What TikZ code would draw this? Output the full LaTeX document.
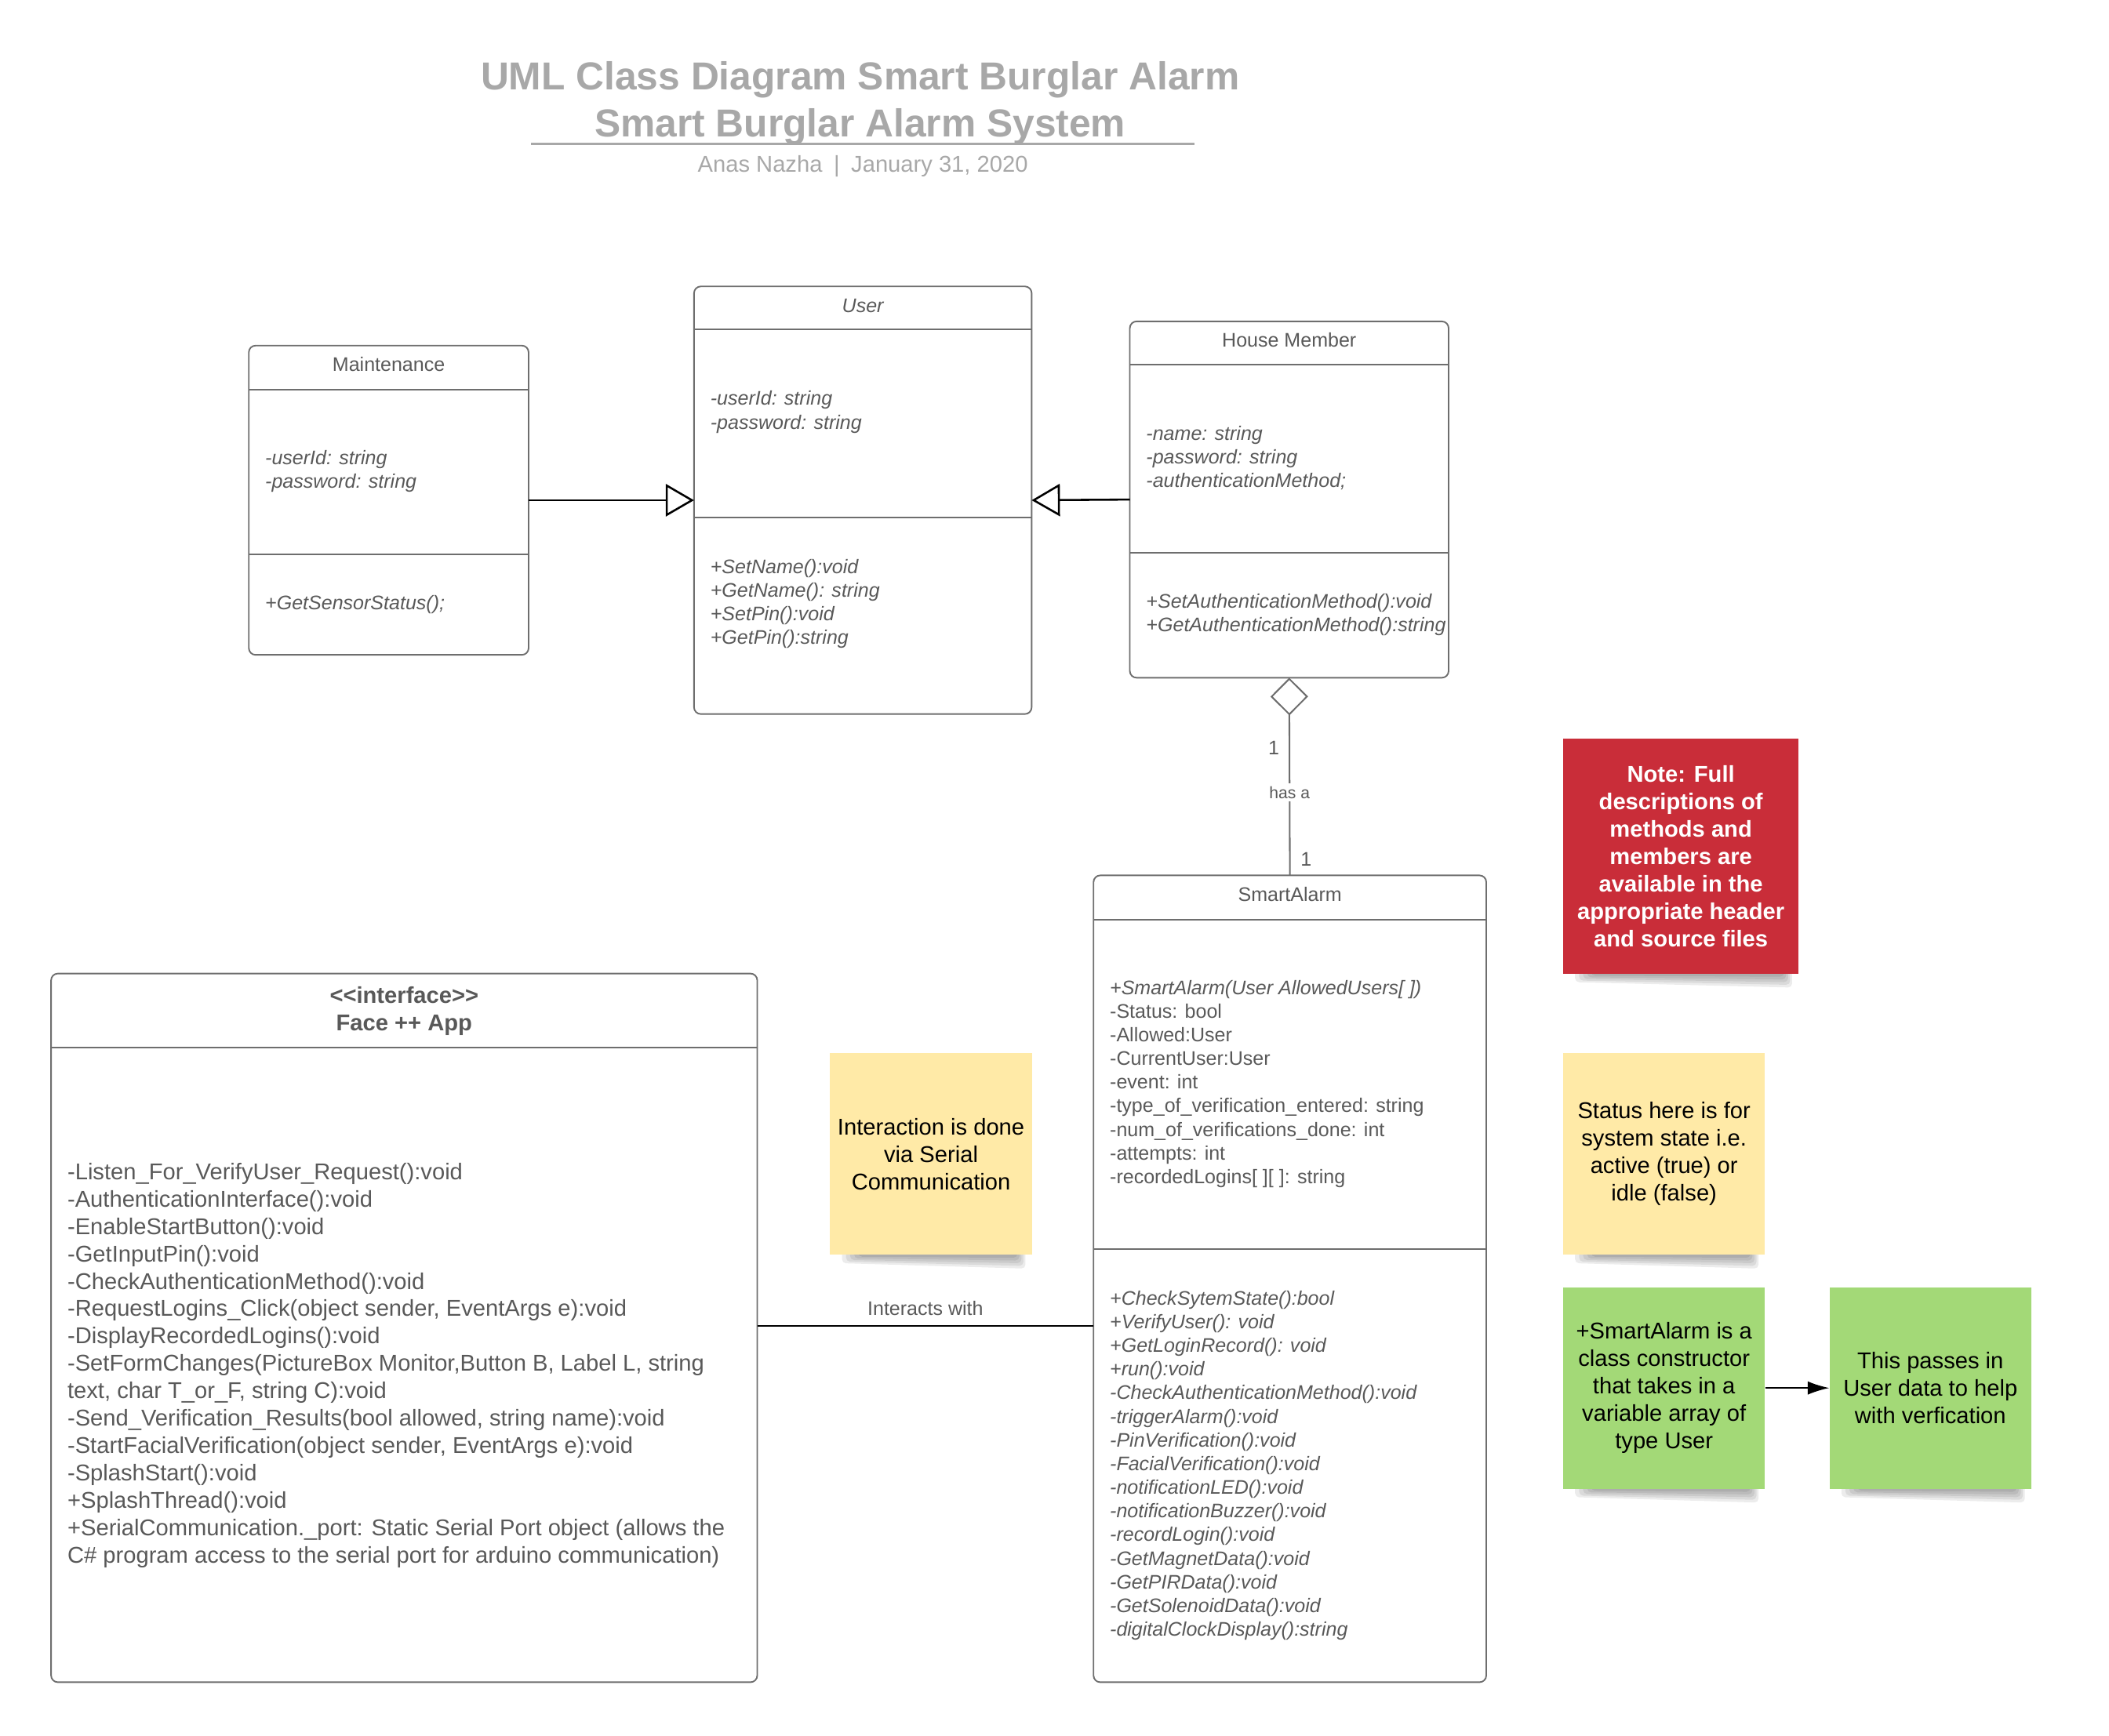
\documentclass[tikz,border=0pt]{standalone}
\usepackage{fontspec}
\setmainfont{Liberation Sans}
\usetikzlibrary{arrows.meta,shapes.geometric,backgrounds}
\definecolor{boxline}{HTML}{6E6E6E}
\definecolor{boxtext}{HTML}{595959}
\definecolor{titlegray}{HTML}{A8A8A8}
\definecolor{notered}{HTML}{C92D39}
\definecolor{noteyellow}{HTML}{FFEAA7}
\definecolor{notegreen}{HTML}{A3D977}
\newcommand\notesh[1]{%
  \foreach \k in {0,1,2,3,4}{%
    \fill[black,opacity=0.075,rounded corners=3pt]
      ([xshift={(9+3*\k)*1pt},yshift=3pt]#1.south west) --
      ([xshift={(-5-1.5*\k)*1pt},yshift=3pt]#1.south east) --
      ([xshift={(-5-1.5*\k)*1pt},yshift={(-10+2*\k)*1pt}]#1.south east) --
      ([xshift={(9+3*\k)*1pt},yshift={(-6+1.2*\k)*1pt}]#1.south west) -- cycle;
  }}
\begin{document}
\begin{tikzpicture}[x=1pt,y=-1pt,
  classbox/.style={draw=boxline,line width=1.1pt,rounded corners=5pt,fill=white,anchor=north west,inner sep=0pt,outer sep=0pt},
  sepline/.style={draw=boxline,line width=1.1pt},
  ctitle/.style={text=boxtext,font=\fontsize{14.6}{17.6}\selectfont,anchor=base,inner sep=0pt},
  cbody/.style={text=boxtext,font=\fontsize{14.6}{17.6}\selectfont\itshape,anchor=north west,align=left,inner sep=0pt},
  cbodyup/.style={text=boxtext,font=\fontsize{14.6}{17.6}\selectfont,anchor=north west,align=left,inner sep=0pt},
  facebody/.style={text=boxtext,font=\fontsize{17}{20.36}\selectfont,anchor=north west,align=left,inner sep=0pt},
  facehead/.style={text=boxtext,font=\fontsize{17}{20.4}\selectfont\bfseries,anchor=north,align=center,inner sep=0pt},
  note/.style={anchor=north west,inner sep=0pt,align=center,font=\fontsize{17}{20.4}\selectfont},
  gen/.style={line width=1.5pt,-{Triangle[open,length=21pt,width=24pt]}},
  agg/.style={draw=boxline,line width=1.2pt,-{Diamond[open,length=28pt,width=28pt]}},
  lbl/.style={text=boxtext,font=\fontsize{14.6}{17}\selectfont,inner sep=1pt},
  ttl/.style={text=titlegray,font=\fontsize{29}{35}\selectfont\bfseries,anchor=base,inner sep=0pt}
]
\useasboundingbox (0,0) rectangle (1568,1291);

% title
\node[ttl] (title1) at (639.5,66.5) {UML Class Diagram Smart Burglar Alarm};
\node[ttl] (title2) at (639.5,101.5) {Smart Burglar Alarm System};
\draw[titlegray,line width=1.6pt] (395,107) -- (888,107);
\node[text=titlegray,font=\fontsize{17}{20}\selectfont,anchor=base,inner sep=0pt] (subtitle) at (641.5,128)
  {Anas Nazha\hspace{0.5em}|\hspace{0.5em}January 31, 2020};

% Maintenance
\node[classbox,minimum width=208pt,minimum height=230pt] (maint) at (185,257) {};
\draw[sepline] (185,290) -- (393,290);
\draw[sepline] (185,412) -- (393,412);
\node[ctitle] (mainttitle) at (289,276.3) {Maintenance};
\node[cbody] (maintattr) at (197,334.6) {-userId: string\\-password: string};
\node[cbody] (maintmeth) at (197,442.6) {+GetSensorStatus();};

% User
\node[classbox,minimum width=251pt,minimum height=318pt] (user) at (516,213) {};
\draw[sepline] (516,245) -- (767,245);
\draw[sepline] (516,385) -- (767,385);
\node[ctitle,font=\fontsize{14.6}{17.6}\selectfont\itshape] (usertitle) at (641.5,232.3) {User};
\node[cbody] (userattr) at (528,290.6) {-userId: string\\-password: string};
\node[cbody] (usermeth) at (528,415.6) {+SetName():void\\+GetName(): string\\+SetPin():void\\+GetPin():string};

% House Member
\node[classbox,minimum width=237pt,minimum height=265pt] (hm) at (840,239) {};
\draw[sepline] (840,271) -- (1077,271);
\draw[sepline] (840,411) -- (1077,411);
\node[ctitle] (hmtitle) at (958.5,258.3) {House Member};
\node[cbody] (hmattr) at (852,316.6) {-name: string\\-password: string\\-authenticationMethod;};
\node[cbody] (hmmeth) at (852,441.6) {+SetAuthenticationMethod():void\\+GetAuthenticationMethod():string};

% SmartAlarm
\node[classbox,minimum width=292pt,minimum height=600pt] (sa) at (813,651) {};
\draw[sepline] (813,684) -- (1105,684);
\draw[sepline] (813,929) -- (1105,929);
\node[ctitle] (satitle) at (959,670.3) {SmartAlarm};
\node[cbodyup] (saattr) at (825,728.6) {\textit{+SmartAlarm(User AllowedUsers[ ])}\\-Status: bool\\-Allowed:User\\-CurrentUser:User\\-event: int\\-type\_of\_verification\_entered: string\\-num\_of\_verifications\_done: int\\-attempts: int\\-recordedLogins[ ][ ]: string};
\node[cbody] (sameth) at (825,959.6) {+CheckSytemState():bool\\+VerifyUser(): void\\+GetLoginRecord(): void\\+run():void\\-CheckAuthenticationMethod():void\\-triggerAlarm():void\\-PinVerification():void\\-FacialVerification():void\\-notificationLED():void\\-notificationBuzzer():void\\-recordLogin():void\\-GetMagnetData():void\\-GetPIRData():void\\-GetSolenoidData():void\\-digitalClockDisplay():string};

% Face++ App
\node[classbox,minimum width=525pt,minimum height=527pt] (fa) at (38,724) {};
\draw[sepline] (38,779) -- (563,779);
\node[facehead] (fahead) at (300.5,733.7) {<{}<interface>{}>\\Face ++ App};
\node[facebody] (fameth) at (50,864.7) {-Listen\_For\_VerifyUser\_Request():void\\-AuthenticationInterface():void\\-EnableStartButton():void\\-GetInputPin():void\\-CheckAuthenticationMethod():void\\-RequestLogins\_Click(object sender, EventArgs e):void\\-DisplayRecordedLogins():void\\-SetFormChanges(PictureBox Monitor,Button B, Label L, string\\text, char T\_or\_F, string C):void\\-Send\_Verification\_Results(bool allowed, string name):void\\-StartFacialVerification(object sender, EventArgs e):void\\-SplashStart():void\\+SplashThread():void\\+SerialCommunication.\_port: Static Serial Port object (allows the\\C\# program access to the serial port for arduino communication)};

% connectors
\draw[gen] (maint.east) -- (user.west);
\draw[gen] (hm.west) -- (user.east);
\draw[agg] (sa.north) -- node[pos=0.42,fill=white,text=boxtext,font=\fontsize{12.3}{14}\selectfont,inner sep=2pt] (hasa) {has a} (hm.south);
\node[lbl] (m1) at (947,556) {1};
\node[lbl] (m2) at (971,639) {1};
\coordinate (ia) at (688,986);
\draw[line width=1.4pt] (fa.east |- ia) -- (sa.west |- ia);
\node[lbl,anchor=center] (iatext) at (688,973) {Interacts with};

% notes
\node[note,fill=notered,text=white,font=\fontsize{17}{20.4}\selectfont\bfseries,minimum width=175pt,minimum height=175pt] (red) at (1162,549)
  {Note: Full\\descriptions of\\methods and\\members are\\available in the\\appropriate header\\and source files};
\node[note,fill=noteyellow,minimum width=150pt,minimum height=150pt] (yel1) at (617,783)
  {Interaction is done\\via Serial\\Communication};
\node[note,fill=noteyellow,minimum width=150pt,minimum height=150pt] (yel2) at (1162,783)
  {Status here is for\\system state i.e.\\active (true) or\\idle (false)};
\node[note,fill=notegreen,minimum width=150pt,minimum height=150pt] (grn1) at (1162,957)
  {+SmartAlarm is a\\class constructor\\that takes in a\\variable array of\\type User};
\node[note,fill=notegreen,minimum width=150pt,minimum height=150pt] (grn2) at (1360,957)
  {This passes in\\User data to help\\with verfication};
\draw[line width=1.1pt,-{Latex[length=16pt,width=10pt]}] (grn1.east) -- (grn2.west);

\begin{scope}[on background layer]
  \notesh{red}
  \notesh{yel1}
  \notesh{yel2}
  \notesh{grn1}
  \notesh{grn2}
\end{scope}
\end{tikzpicture}
\end{document}
